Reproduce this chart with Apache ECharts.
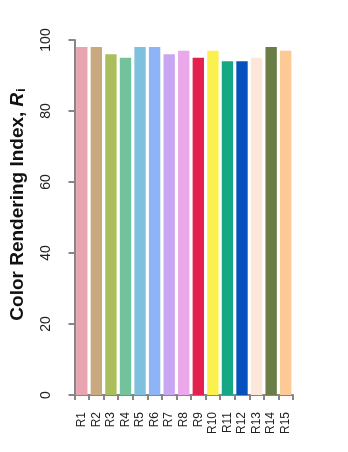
<!DOCTYPE html>
<html>
<head>
<meta charset="utf-8">
<script src="https://cdn.jsdelivr.net/npm/echarts@6/dist/echarts.min.js"></script>
<style>html,body{margin:0;padding:0;background:#fff}#c{width:348px;height:452px}</style>
</head>
<body>
<div id="c"></div>
<script>
var categories = ['R1','R2','R3','R4','R5','R6','R7','R8','R9','R10','R11','R12','R13','R14','R15'];
var values = [98, 98, 96, 95, 98, 98, 96, 97, 95, 97, 94, 94, 95, 98, 97];
var barColors = ['#e8a5b0','#c9aa80','#aabf5c','#72c29c','#7fc0de','#8db4f7','#c9a6f2','#eaa8ea','#e3204e','#fbf04e','#16a884','#0552bf','#fde6da','#6b7d47','#fdca96'];
var yTicks = [0, 20, 40, 60, 80, 100];

var chart = echarts.init(document.getElementById('c'), null, {renderer: 'canvas'});
chart.setOption({
  animation: false,
  backgroundColor: '#fff',
  textStyle: {fontFamily: 'Liberation Sans, Arial, sans-serif'},
  grid: {left: 68, right: 55, top: 40, bottom: 57},
  xAxis: {
    type: 'category',
    data: categories,
    axisLine: {lineStyle: {color: '#868686', width: 2}},
    axisTick: {show: true, length: 5, lineStyle: {color: '#868686', width: 2}},
    axisLabel: {rotate: 90, fontSize: 12, color: '#222', margin: 17, interval: 0}
  },
  yAxis: {
    type: 'value',
    min: yTicks[0],
    max: yTicks[yTicks.length - 1],
    interval: 20,
    name: 'Color Rendering Index, {it|R}{sub|i}',
    nameLocation: 'middle',
    nameRotate: 90,
    nameGap: 47,
    nameTextStyle: {
      fontSize: 19, fontWeight: 'bold', color: '#111',
      padding: [0, 0, 0, 26],
      rich: {
        it: {fontSize: 19, fontWeight: 'bold', fontStyle: 'italic', color: '#111'},
        sub: {fontSize: 12, fontWeight: 'bold', color: '#111', verticalAlign: 'bottom', padding: [8, 0, 0, 1]}
      }
    },
    splitLine: {show: false},
    axisLine: {show: true, lineStyle: {color: '#868686', width: 2}},
    axisTick: {show: true, length: 6, lineStyle: {color: '#868686', width: 2}},
    axisLabel: {rotate: 90, fontSize: 14, color: '#222', margin: 21}
  },
  series: [{
    type: 'bar',
    data: values.map(function (v, i) { return {value: v, itemStyle: {color: barColors[i]}}; }),
    barCategoryGap: '22%'
  }]
});
</script>
</body>
</html>
